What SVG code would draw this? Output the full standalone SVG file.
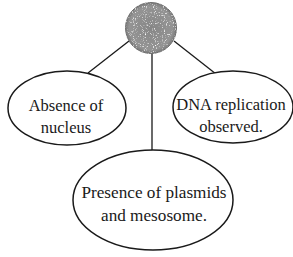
<svg xmlns="http://www.w3.org/2000/svg" width="293" height="257" viewBox="0 0 293 257">
<style>
.node{fill:#fff;stroke:#1a1a1a;stroke-width:1.5}
.lbl{font-family:"Liberation Serif","Times New Roman",serif;font-size:16.5px;fill:#1a1a1a;text-anchor:middle}
.con{stroke:#1a1a1a;stroke-width:1.3;fill:none}
</style>
<defs>
<radialGradient id="g" cx="0.5" cy="0.5" r="0.5">
<stop offset="0" stop-color="#868686"/>
<stop offset="0.85" stop-color="#949494"/>
<stop offset="1" stop-color="#7a7a7a"/>
</radialGradient>
<filter id="sp" x="0" y="0" width="1" height="1">
<feTurbulence type="fractalNoise" baseFrequency="0.9" numOctaves="1" seed="4" result="n"/>
<feColorMatrix in="n" type="matrix" values="0 0 0 0 1  0 0 0 0 1  0 0 0 0 1  4 0 0 0 -2.3" result="w"/>
<feComposite in="w" in2="SourceGraphic" operator="in" result="d"/>
<feMerge><feMergeNode in="SourceGraphic"/><feMergeNode in="d"/></feMerge>
</filter>
</defs>
<rect width="293" height="257" fill="#fff"/>
<g id="connectors">
<line class="con" x1="129" y1="41" x2="88" y2="73"/>
<line class="con" x1="174" y1="41" x2="216" y2="74"/>
<line class="con" x1="152" y1="53" x2="152" y2="151"/>
</g>
<g id="center">
<circle cx="151" cy="28" r="25.5" fill="url(#g)" stroke="#6f6f6f" stroke-width="1" filter="url(#sp)"/>
</g>
<g id="absence">
<ellipse class="node" cx="67" cy="108" rx="59" ry="37"/>
<text class="lbl" x="66" y="111">Absence of</text>
<text class="lbl" x="66" y="133">nucleus</text>
</g>
<g id="dna">
<ellipse class="node" cx="233" cy="107" rx="60" ry="36"/>
<text class="lbl" x="231" y="110">DNA replication</text>
<text class="lbl" x="231" y="132">observed.</text>
</g>
<g id="plasmids">
<ellipse class="node" cx="153" cy="200" rx="80" ry="50"/>
<text class="lbl" x="154" y="198" style="font-size:17.2px">Presence of plasmids</text>
<text class="lbl" x="154" y="221" style="font-size:17.2px">and mesosome.</text>
</g>
</svg>
